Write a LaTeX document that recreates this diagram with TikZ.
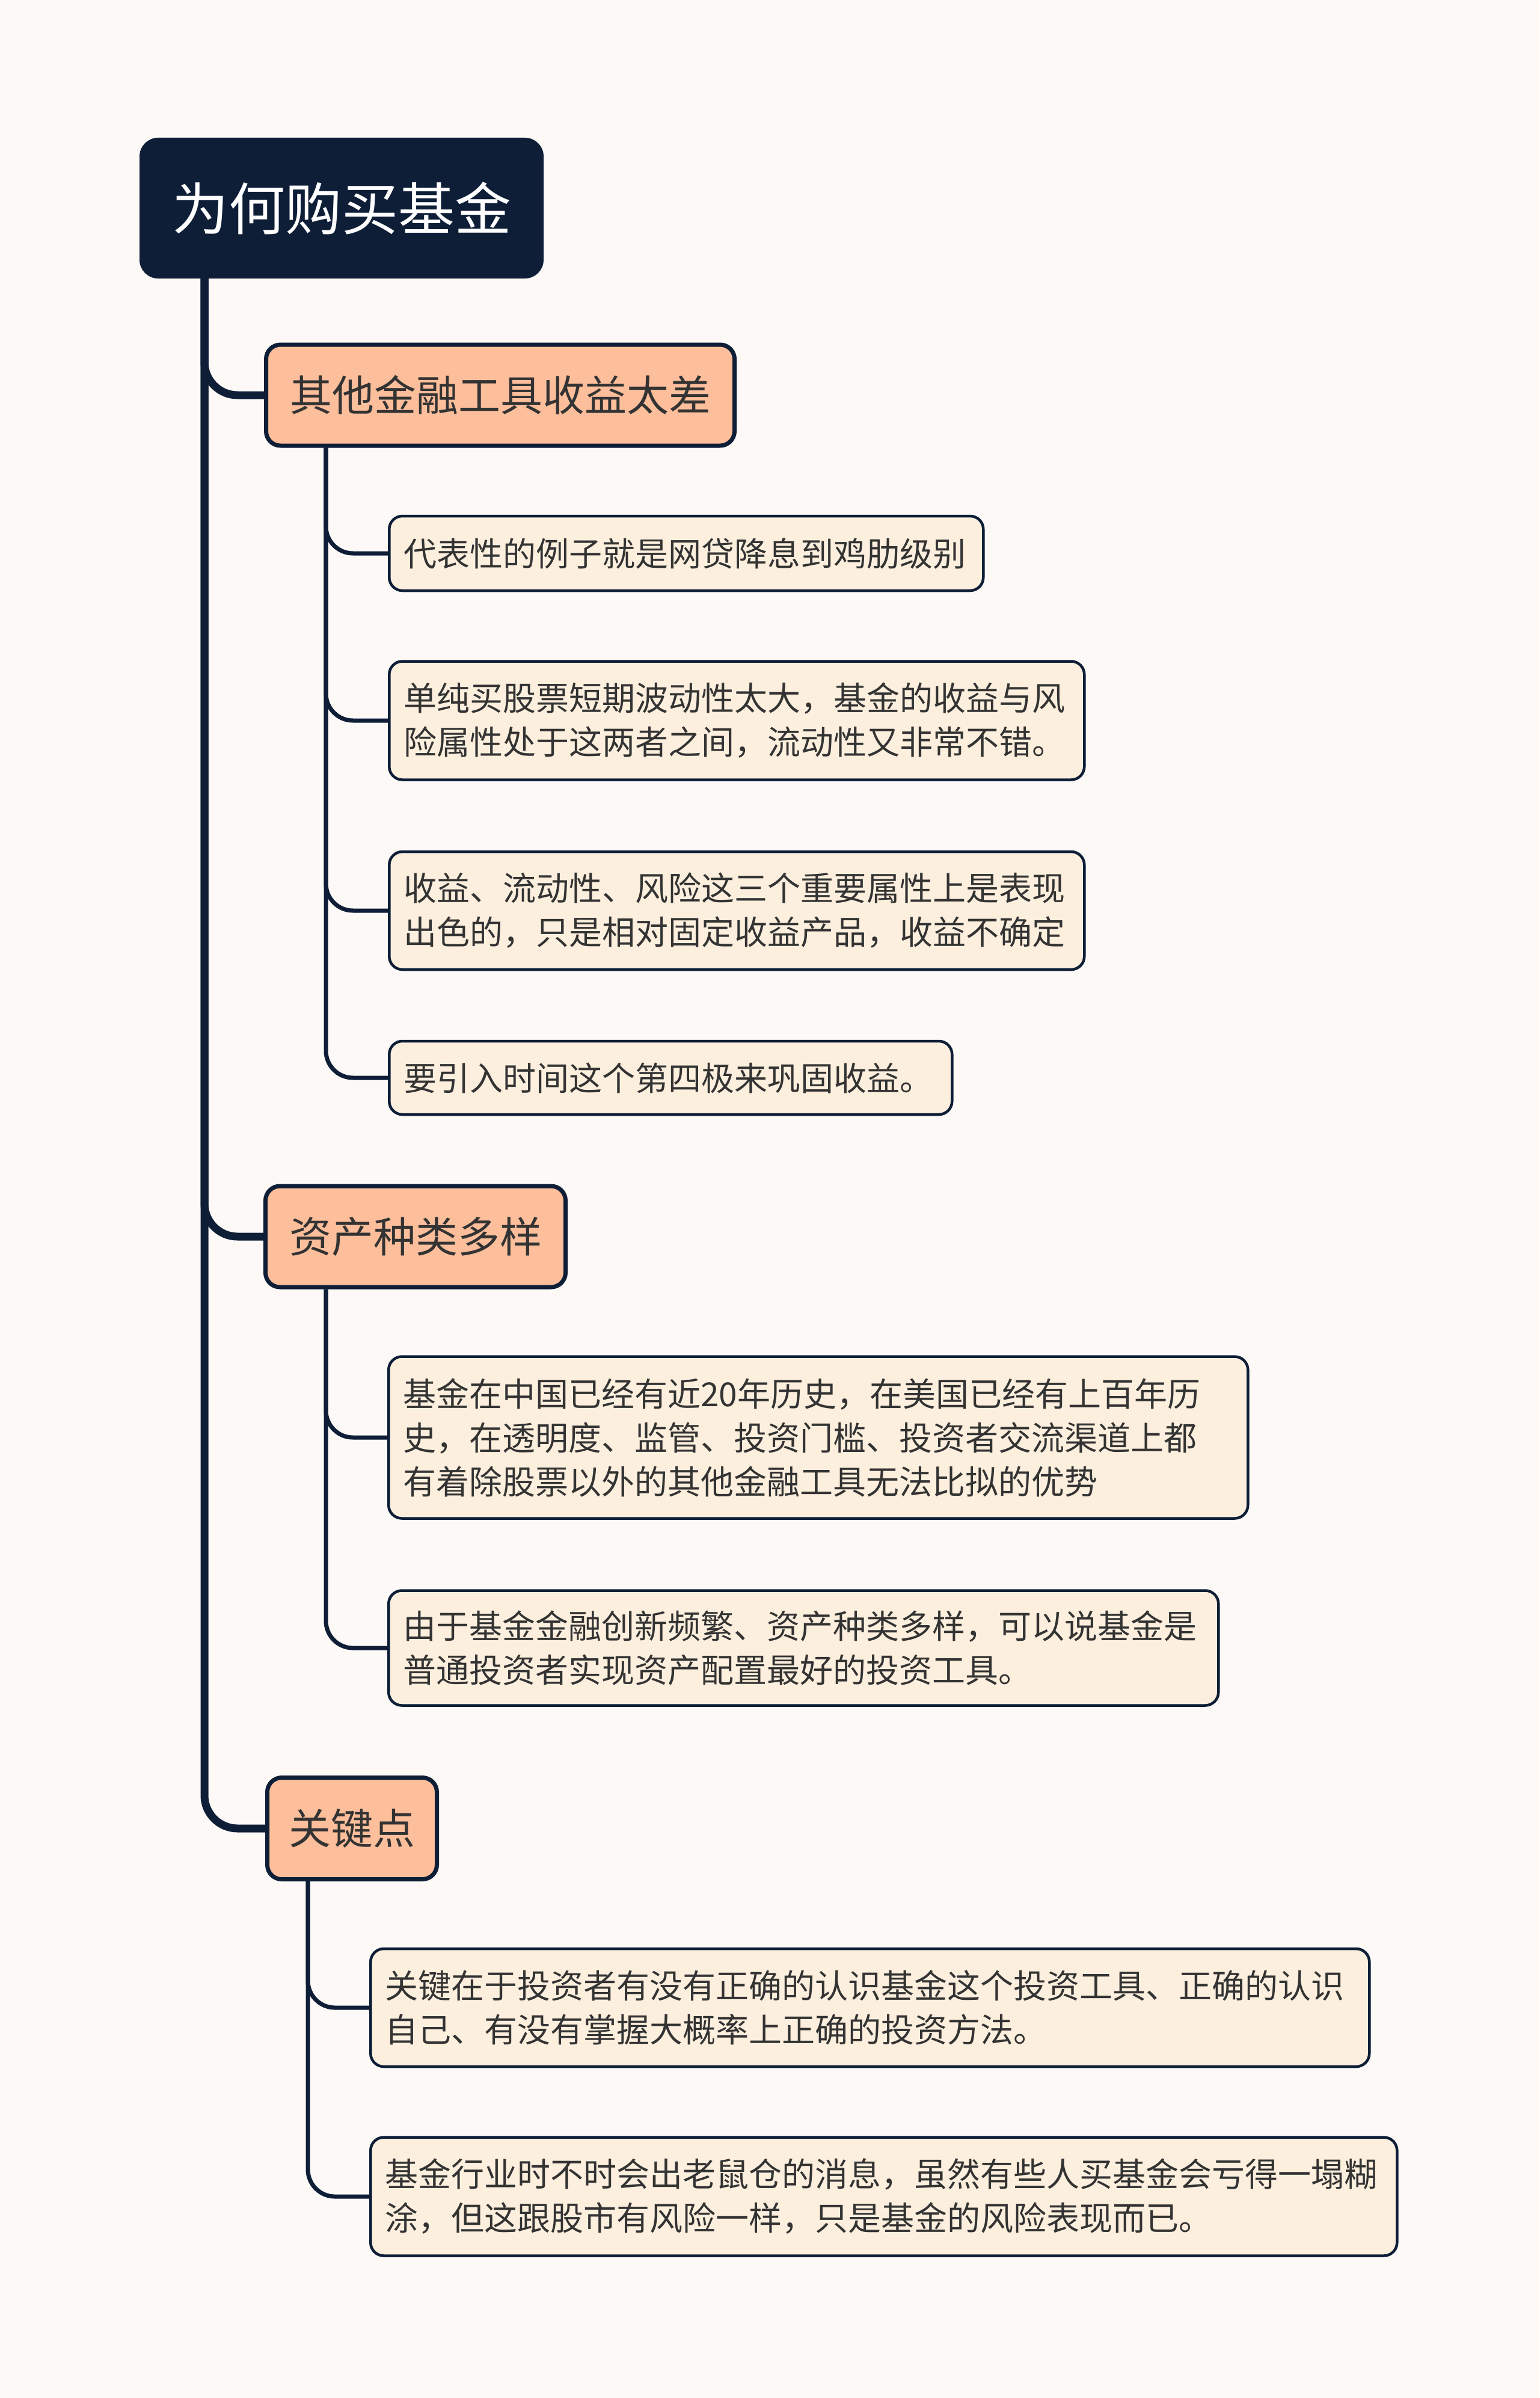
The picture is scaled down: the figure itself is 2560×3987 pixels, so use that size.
\documentclass[tikz,border=0pt]{standalone}
\usepackage{fontspec}
\setmainfont{Noto Sans CJK SC}
\usetikzlibrary{backgrounds}
\definecolor{bgc}{HTML}{FDF9F7}
\definecolor{navy}{HTML}{0E1E37}
\definecolor{peach}{HTML}{FDBE9B}
\definecolor{cream}{HTML}{FDEFDE}
\definecolor{txt}{HTML}{333333}
\tikzset{
  rootbox/.style={rectangle, rounded corners=30pt, fill=navy, draw=navy, line width=2pt,
    text=white, font=\fontsize{94}{110}\selectfont, anchor=west, align=center, inner sep=0pt},
  topicbox/.style={rectangle, rounded corners=24pt, fill=peach, draw=navy, line width=7pt,
    text=txt, font=\fontsize{70}{84}\selectfont, anchor=west, align=center, inner sep=0pt},
  leafbox/.style={rectangle, rounded corners=22pt, fill=cream, draw=navy, line width=4.5pt,
    text=txt, font=\fontsize{55}{73}\selectfont, anchor=west, align=left, inner xsep=24pt, inner ysep=0pt},
  trunk/.style={draw=navy, line width=13pt, rounded corners=55pt},
  branch/.style={draw=navy, line width=7pt, rounded corners=45pt},
}
\begin{document}
\begin{tikzpicture}[x=1pt, y=-1pt]
\useasboundingbox (0,0) rectangle (2560,3987);

\node[rootbox, minimum width=670pt, minimum height=232pt] (root) at (232,346) {为何购买基金};

\node[topicbox, minimum width=779pt, minimum height=168pt] (t1) at (439,657) {其他金融工具收益太差};
\node[leafbox, text width=940pt, minimum height=124pt] (l1) at (645,920) {代表性的例子就是网贷降息到鸡肋级别};
\node[leafbox, text width=1108pt, minimum height=197pt] (l2) at (645,1198) {单纯买股票短期波动性太大，基金的收益与风\\险属性处于这两者之间，流动性又非常不错。};
\node[leafbox, text width=1108pt, minimum height=196pt] (l3) at (645,1514) {收益、流动性、风险这三个重要属性上是表现\\出色的，只是相对固定收益产品，收益不确定};
\node[leafbox, text width=888pt, minimum height=122pt] (l4) at (645,1792) {要引入时间这个第四极来巩固收益。};

\node[topicbox, minimum width=499pt, minimum height=168pt] (t2) at (438,2056) {资产种类多样};
\node[leafbox, text width=1381pt, minimum height=269pt] (l5) at (644,2390) {基金在中国已经有近20年历史，在美国已经有上百年历\\史，在透明度、监管、投资门槛、投资者交流渠道上都\\有着除股票以外的其他金融工具无法比拟的优势};
\node[leafbox, text width=1332pt, minimum height=191pt] (l6) at (644,2740) {由于基金金融创新频繁、资产种类多样，可以说基金是\\普通投资者实现资产配置最好的投资工具。};

\node[topicbox, minimum width=282pt, minimum height=169pt] (t3) at (441,3040) {关键点};
\node[leafbox, text width=1613pt, minimum height=196pt] (l7) at (614,3338) {关键在于投资者有没有正确的认识基金这个投资工具、正确的认识\\自己、有没有掌握大概率上正确的投资方法。};
\node[leafbox, text width=1659pt, minimum height=197pt] (l8) at (614,3652) {基金行业时不时会出老鼠仓的消息，虽然有些人买基金会亏得一塌糊\\涂，但这跟股市有风险一样，只是基金的风险表现而已。};

\begin{scope}[on background layer]
\fill[bgc] (0,0) rectangle (2560,3987);
\coordinate (rs) at ([xshift=108pt]root.south west);
\draw[trunk] (rs) |- (t1.west);
\draw[trunk] (rs) |- (t2.west);
\draw[trunk] (rs) |- (t3.west);
\coordinate (s1) at ([xshift=103pt]t1.south west);
\draw[branch] (s1) |- (l1.west);
\draw[branch] (s1) |- (l2.west);
\draw[branch] (s1) |- (l3.west);
\draw[branch] (s1) |- (l4.west);
\coordinate (s2) at ([xshift=104pt]t2.south west);
\draw[branch] (s2) |- (l5.west);
\draw[branch] (s2) |- (l6.west);
\coordinate (s3) at ([xshift=71pt]t3.south west);
\draw[branch] (s3) |- (l7.west);
\draw[branch] (s3) |- (l8.west);
\end{scope}
\end{tikzpicture}
\end{document}
